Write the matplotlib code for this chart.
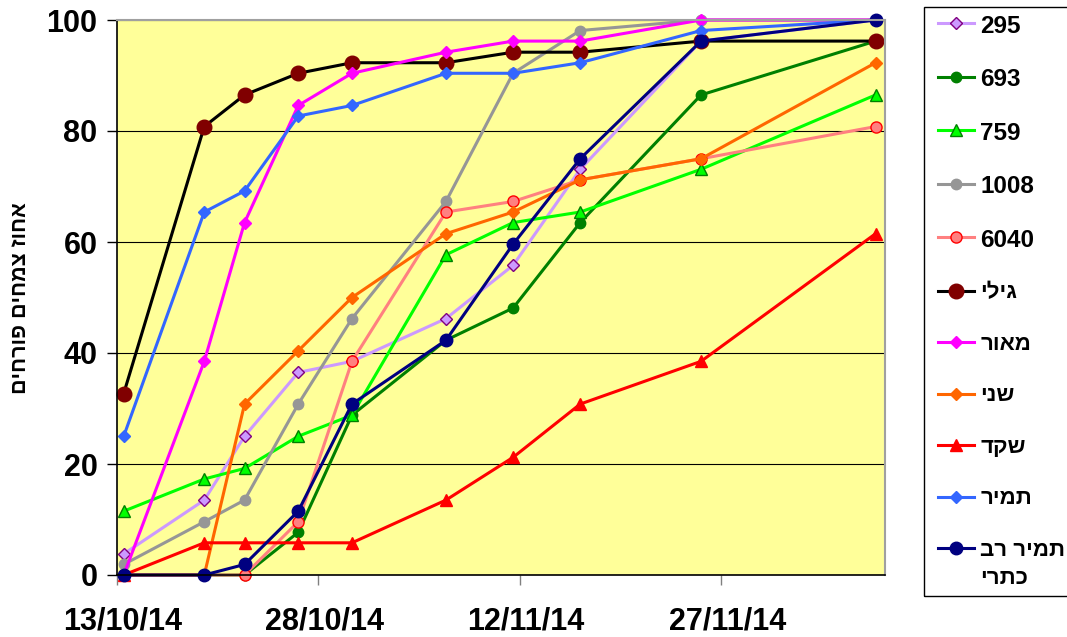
import numpy as np
import pandas as pd
import matplotlib
matplotlib.use('Agg')
import matplotlib.pyplot as plt
import matplotlib.dates as mdates
import matplotlib.transforms as mtransforms
from matplotlib.patches import Rectangle

plt.rcParams['font.family'] = ['Liberation Sans', 'DejaVu Sans']
plt.rcParams['font.weight'] = 'bold'

# observation dates
dates = ['2014-10-13', '2014-10-19', '2014-10-22', '2014-10-26', '2014-10-30',
         '2014-11-06', '2014-11-11', '2014-11-16', '2014-11-25', '2014-12-08']

s295 = [3.8, 13.5, 25.0, 36.5, 38.5, 46.2, 55.8, 73.1, 96.2, 100]
s693 = [0, 0, 0, 7.7, 28.8, 42.3, 48.1, 63.5, 86.5, 96.2]
s759 = [11.5, 17.3, 19.2, 25.0, 28.8, 57.7, 63.5, 65.4, 73.1, 86.5]
s1008 = [1.9, 9.6, 13.5, 30.8, 46.2, 67.3, 90.4, 98.1, 100, 100]
s6040 = [0, 0, 0, 9.6, 38.5, 65.4, 67.3, 71.2, 75.0, 80.8]
gili = [32.7, 80.8, 86.5, 90.4, 92.3, 92.3, 94.2, 94.2, 96.2, 96.2]
maor = [0, 38.5, 63.5, 84.6, 90.4, 94.2, 96.2, 96.2, 100, 100]
shani = [0, 0, 30.8, 40.4, 50.0, 61.5, 65.4, 71.2, 75.0, 92.3]
shaked = [0, 5.8, 5.8, 5.8, 5.8, 13.5, 21.2, 30.8, 38.5, 61.5]
tamir = [25.0, 65.4, 69.2, 82.7, 84.6, 90.4, 90.4, 92.3, 98.1, 100]
tamir_rav = [0, 0, 1.9, 11.5, 30.8, 42.3, 59.6, 75.0, 96.2, 100]

labels = ['295', '693', '759', '1008', '6040', 'גילי', 'מאור', 'שני', 'שקד', 'תמיר',
          'תמיר רב\nכתרי']
ylabel = 'אחוז צמחים פורחים'
tick_dates = ['2014-10-13', '2014-10-28', '2014-11-12', '2014-11-27']


def is_heb(s):
    return any('\u0590' <= c <= '\u05ff' for c in s)


def vis(s):
    # no bidi in matplotlib: reverse each line so hebrew reads right-to-left
    return '\n'.join(line[::-1] if is_heb(line) else line for line in s.split('\n'))


series = [s295, s693, s759, s1008, s6040, gili, maor, shani, shaked, tamir, tamir_rav]
styles = [
    dict(color='#CC99FF', marker='D', mfc='#CC99FF', mec='#800080', ms=6.5, mew=1),
    dict(color='#008000', marker='o', mfc='#008000', mec='#008000', ms=7.5),
    dict(color='#00FF00', marker='^', mfc='#00FF00', mec='#008000', ms=9, mew=1),
    dict(color='#969696', marker='o', mfc='#969696', mec='#969696', ms=7.5),
    dict(color='#FF8080', marker='o', mfc='#FF8080', mec='#FF0000', ms=8, mew=1),
    dict(color='#000000', marker='o', mfc='#800000', mec='#800000', ms=10.5),
    dict(color='#FF00FF', marker='D', mfc='#FF00FF', mec='#FF00FF', ms=6),
    dict(color='#FF6600', marker='D', mfc='#FF6600', mec='#FF6600', ms=6),
    dict(color='#FF0000', marker='^', mfc='#FF0000', mec='#FF0000', ms=9),
    dict(color='#3366FF', marker='D', mfc='#3366FF', mec='#3366FF', ms=6),
    dict(color='#000080', marker='o', mfc='#000080', mec='#000080', ms=9),
]

x = pd.to_datetime(dates) + pd.Timedelta(hours=12)

fig = plt.figure(figsize=(10.67, 6.37), dpi=100)
ax = fig.add_axes([117 / 1067, 1 - 575 / 637, (885 - 117) / 1067, (575 - 20) / 637])
ax.set_facecolor('#FFFF99')

handles = []
for vals, st, lab in zip(series, styles, labels):
    h, = ax.plot(x, vals, lw=2.2, clip_on=False, label=vis(lab), **st)
    handles.append(h)

x0 = pd.Timestamp('2014-10-13')
ax.set_xlim(x0, x0 + pd.Timedelta(days=57.2))
ax.set_ylim(0, 100)
ax.set_xticks(pd.to_datetime(tick_dates))
ax.xaxis.set_major_formatter(mdates.DateFormatter('%d/%m/%y'))
ax.set_yticks(np.arange(0, 101, 20))
ax.yaxis.grid(True, color='black', lw=0.8)
ax.set_axisbelow(True)

ax.tick_params(axis='x', direction='out', length=7, width=1, color='#808080',
               pad=16, labelsize=22)
ax.tick_params(axis='y', direction='out', length=7, width=1, color='black',
               pad=7, labelsize=22)
shift = mtransforms.ScaledTranslation(6 / 100, 0, fig.dpi_scale_trans)
for lab in ax.get_xticklabels():
    lab.set_fontweight('bold')
    lab.set_transform(lab.get_transform() + shift)
for lab in ax.get_yticklabels():
    lab.set_fontweight('bold')

ax.spines['top'].set_color('#A0A0A0')
ax.spines['right'].set_color('#A0A0A0')
ax.spines['top'].set_linewidth(1.5)
ax.spines['right'].set_linewidth(1.5)
ax.spines['left'].set_linewidth(1.2)
ax.spines['bottom'].set_linewidth(1.2)

fig.text(21 / 1067, 1 - 298 / 637, vis(ylabel), rotation=90, ha='center', va='center',
         fontsize=15.5, fontweight='bold')

# legend box runs past the right edge of the image
fig.patches.append(Rectangle((924 / 1067, 1 - 596 / 637), 0.2, (596 - 7) / 637,
                             transform=fig.transFigure, fill=False, ec='black', lw=1))
leg = fig.legend(handles=handles, loc='upper left',
                 bbox_to_anchor=(928 / 1067, 1 - 5 / 637), frameon=False,
                 prop={'size': 17.5, 'weight': 'bold'}, handlelength=1.5,
                 handletextpad=0.25, labelspacing=1.255, borderaxespad=0)
# hebrew glyphs run wider than in the original font
for t in leg.get_texts():
    if is_heb(t.get_text()):
        t.set_fontsize(16)
    if '\n' in t.get_text():
        t.set_linespacing(1.45)
# keep the marker level with the first line of the two-line label
for col in leg._legend_handle_box.get_children():
    for row in col.get_children():
        row.align = 'top'

fig.savefig('out.png', dpi=100)
